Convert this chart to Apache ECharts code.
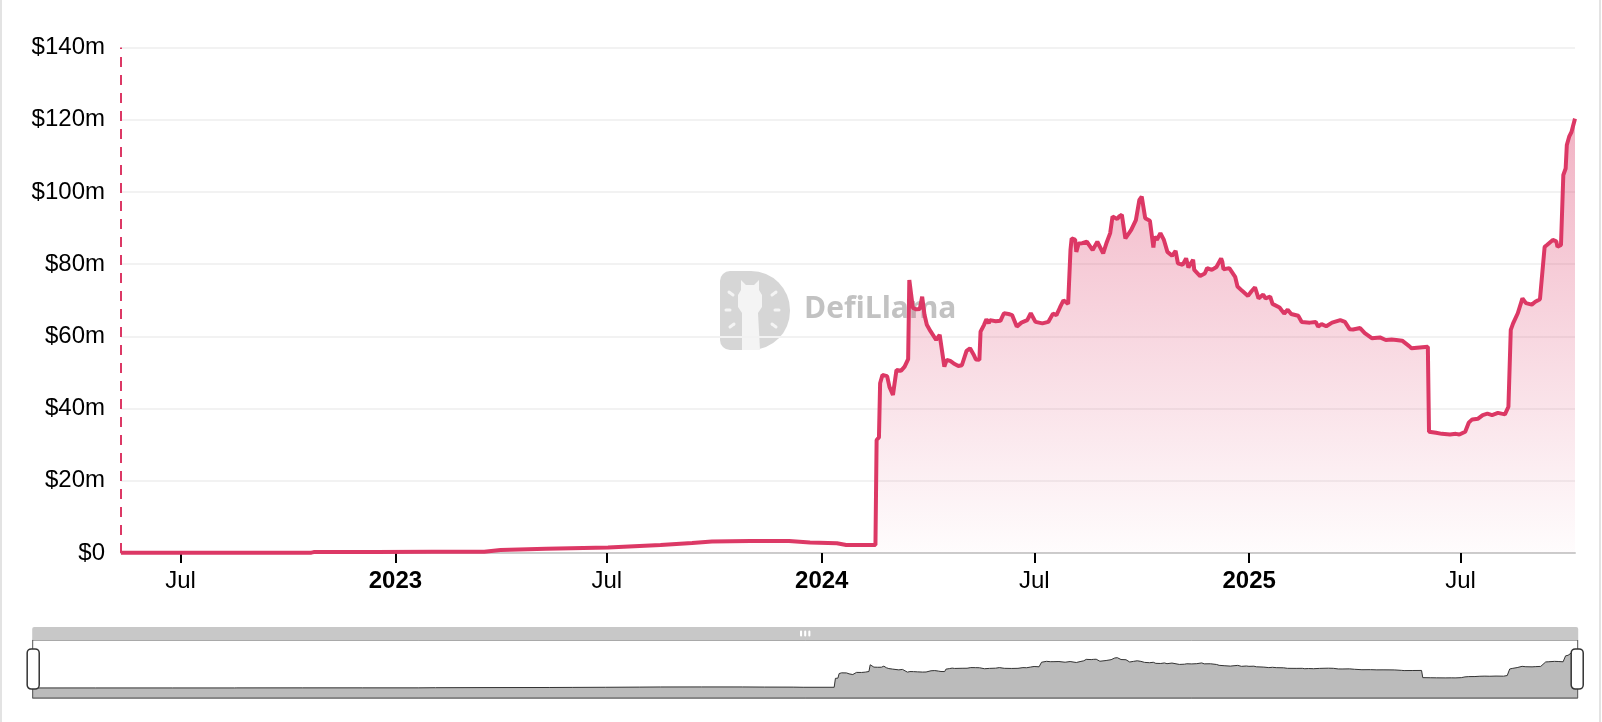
<!DOCTYPE html>
<html>
<head>
<meta charset="utf-8">
<script src="https://cdn.jsdelivr.net/npm/echarts@6/dist/echarts.min.js"></script>
<style>
  html, body { margin: 0; padding: 0; background: #fff; }
  #wrap { position: relative; width: 1602px; height: 722px; }
  #chart { position: absolute; left: 0; top: 0; width: 1602px; height: 722px; }
  .edge { position: absolute; top: 0; width: 2px; height: 722px; background: #e3e3e3; }
</style>
</head>
<body>
<div id="wrap">
  <div id="chart"></div>
  <div class="edge" style="left:0"></div>
  <div class="edge" style="left:1599px"></div>
</div>
<script>
// ---- data (TVL in $ millions) ----
const dates = [
  '2022-05-11','2022-07-01','2022-09-01','2022-10-21','2022-10-23','2022-12-15','2023-02-01','2023-03-18',
  '2023-04-01','2023-05-10','2023-07-02','2023-07-20','2023-08-16','2023-09-12','2023-09-29','2023-11-01',
  '2023-12-04','2023-12-22','2024-01-14','2024-01-22','2024-02-16',
  '2024-02-17','2024-02-19','2024-02-20','2024-02-22','2024-02-26','2024-02-28','2024-03-02','2024-03-05',
  '2024-03-09','2024-03-12','2024-03-15','2024-03-16','2024-03-19','2024-03-22','2024-03-25','2024-03-27',
  '2024-03-29','2024-03-31','2024-04-03','2024-04-08','2024-04-11','2024-04-15','2024-04-17','2024-04-20',
  '2024-04-23','2024-04-27','2024-04-30','2024-05-04','2024-05-07','2024-05-10','2024-05-12','2024-05-15',
  '2024-05-16','2024-05-19','2024-05-21','2024-05-23','2024-05-24','2024-05-29','2024-06-02','2024-06-05',
  '2024-06-09','2024-06-12','2024-06-16','2024-06-20','2024-06-25','2024-06-28','2024-07-02','2024-07-08',
  '2024-07-13','2024-07-17','2024-07-20','2024-07-23','2024-07-26','2024-07-30','2024-08-01','2024-08-02',
  '2024-08-05','2024-08-06','2024-08-08','2024-08-11','2024-08-15','2024-08-20','2024-08-24','2024-08-29',
  '2024-09-01','2024-09-04','2024-09-06','2024-09-10','2024-09-12','2024-09-14','2024-09-17','2024-09-22',
  '2024-09-26','2024-09-29','2024-10-01','2024-10-04','2024-10-08','2024-10-11','2024-10-12','2024-10-14',
  '2024-10-17','2024-10-20','2024-10-23','2024-10-27','2024-10-30','2024-11-01','2024-11-05','2024-11-08',
  '2024-11-10','2024-11-14','2024-11-15','2024-11-20','2024-11-24','2024-11-26','2024-11-30','2024-12-04',
  '2024-12-08','2024-12-09','2024-12-10','2024-12-15','2024-12-20','2024-12-22','2024-12-26','2024-12-31',
  '2025-01-03','2025-01-06','2025-01-09','2025-01-13','2025-01-15','2025-01-19','2025-01-21','2025-01-27',
  '2025-01-31','2025-02-03','2025-02-06','2025-02-12','2025-02-15','2025-02-22','2025-02-27','2025-03-01',
  '2025-03-04','2025-03-08','2025-03-13','2025-03-20','2025-03-24','2025-03-28','2025-03-31','2025-04-06',
  '2025-04-10','2025-04-16','2025-04-23','2025-04-28','2025-05-03','2025-05-07','2025-05-12','2025-05-18',
  '2025-05-20','2025-05-27','2025-06-03','2025-06-04','2025-06-10','2025-06-15','2025-06-22','2025-06-27',
  '2025-06-30','2025-07-05','2025-07-08','2025-07-11','2025-07-16','2025-07-20','2025-07-24','2025-07-28',
  '2025-08-02','2025-08-08','2025-08-11','2025-08-13','2025-08-15','2025-08-19','2025-08-23','2025-08-26',
  '2025-08-31','2025-09-03','2025-09-07','2025-09-11','2025-09-13','2025-09-18','2025-09-21','2025-09-22',
  '2025-09-25','2025-09-27','2025-09-29','2025-09-30','2025-10-02','2025-10-04','2025-10-07'
];
const tvl = [
  0.05,0.06,0.08,0.1,0.25,0.3,0.32,0.35,
  0.8,1.2,1.5,1.8,2.2,2.8,3.2,3.35,
  3.3,2.9,2.7,2.2,2.2,
  31.3,32,47,49.3,49,46,43.8,50.7,
  50.5,51.6,53.7,75.6,67.9,67.5,67.6,71,
  66,63.2,61.5,59,60.4,51.6,53.5,53.2,
  52.5,51.8,52,56,56.7,55,53.6,53.5,
  61.3,63.2,64.7,63.6,64.5,64.2,64.3,66.4,
  66.2,65.9,62.7,63.8,64.5,66.4,64,63.6,
  64,66.3,65.9,68,70,69,83.9,87.1,
  86.8,83.4,85.7,85.8,86.2,83.9,86.2,83,
  86,88.6,93.2,92.5,93.3,93.7,87.1,89.5,
  92.2,97.8,98.7,92.7,92,84.6,87.6,86.7,
  88.6,86.7,83.4,82.3,83.7,80.2,79.8,81.6,
  79.1,81.2,78.4,76.7,77.4,78.9,78.4,79.2,
  81.6,80.7,78.6,78.9,76.5,73.8,72.6,71.2,
  72.5,73.6,70.5,71.6,70.5,71,69,68,
  66.3,67.4,66.2,65.7,64,63.8,64,62.7,
  63.4,62.8,63.8,64.5,64,62,61.9,62.3,
  60.9,59.5,59.7,59,59.1,59,58.8,57.3,
  56.7,56.9,57.1,33.6,33.3,33,32.8,33,
  32.8,33.6,36.1,37,37.2,38.2,38.6,38.2,
  38.8,38.4,40.5,61.8,63.6,66.4,70.5,69.2,
  68.8,69.6,70.3,84.8,85.3,86.7,86.3,84.8,
  85.3,104.7,106.5,113,115.3,116.6,120.3
];
const tickDates = ['2022-07-01','2023-01-01','2023-07-01','2024-01-01','2024-07-01','2025-01-01','2025-07-01'];
const yTicks = { min: 0, max: 140, interval: 20 };

function ts(s) { const p = s.split('-').map(Number); return Date.UTC(p[0], p[1] - 1, p[2]); }
const seriesData = dates.map((d, i) => [ts(d), tvl[i]]);
const tickVals = tickDates.map(ts);

const FONT = '"Liberation Sans", Arial, Helvetica, sans-serif';
const LINE = '#dc3865';

const chart = echarts.init(document.getElementById('chart'), null, { renderer: 'canvas' });

const handlePath = 'path://M4,0h4a4,4,0,0,1,4,4v32a4,4,0,0,1,-4,4h-4a4,4,0,0,1,-4,-4v-32a4,4,0,0,1,4,-4z';

const option = {
  animation: false,
  backgroundColor: '#fff',
  grid: [
    { left: 121, right: 27, top: 47.5, bottom: 169 },
    { left: 32, right: 24, top: 640, height: 59 }
  ],
  xAxis: [{
    type: 'value',
    gridIndex: 0,
    min: 'dataMin',
    max: 'dataMax',
    scale: true,
    axisLine: { show: true, lineStyle: { color: '#cccccc', width: 2 } },
    axisTick: { show: true, customValues: tickVals, length: 10, lineStyle: { color: '#000', width: 2 } },
    axisLabel: {
      customValues: tickVals,
      margin: 16,
      fontSize: 24,
      color: '#000',
      fontFamily: FONT,
      formatter: function (v) {
        const d = new Date(v);
        return d.getUTCMonth() === 0 ? '{y|' + d.getUTCFullYear() + '}' : 'Jul';
      },
      rich: { y: { fontSize: 24, fontWeight: 'bold', color: '#000', fontFamily: FONT } }
    },
    splitLine: { show: false }
  }, {
    type: 'value',
    gridIndex: 1,
    min: 'dataMin',
    max: 'dataMax',
    scale: true,
    show: false
  }],
  yAxis: [{
    type: 'value',
    gridIndex: 0,
    min: yTicks.min,
    max: yTicks.max,
    interval: yTicks.interval,
    axisLine: { show: false },
    axisTick: { show: false },
    axisLabel: {
      margin: 16,
      fontSize: 24,
      color: '#000',
      fontFamily: FONT,
      formatter: function (v) { return v === 0 ? '$0' : '$' + v + 'm'; }
    },
    splitLine: { lineStyle: { color: '#f2f2f2', width: 2 } }
  }, {
    type: 'value',
    gridIndex: 1,
    show: false,
    min: function (e) { return e.min - (e.max - e.min) * 0.3; },
    max: function (e) { return e.max + (e.max - e.min) * 0.3; }
  }],
  dataZoom: [{
    type: 'slider',
    xAxisIndex: 0,
    start: 0,
    end: 100,
    left: 27,
    right: 29,
    bottom: 36,
    height: 59,
    showDetail: false,
    showDataShadow: false,
    brushSelect: true,
    backgroundColor: 'rgba(0,0,0,0)',
    borderColor: '#555',
    borderRadius: 0,
    fillerColor: 'rgba(0,0,0,0)',
    handleIcon: handlePath,
    handleSize: '68%',
    handleStyle: { color: '#fff', borderColor: '#333', borderWidth: 1.5 },
    moveHandleSize: 13,
    moveHandleStyle: { color: '#c8c8c8', opacity: 1 }
  }],
  graphic: [
    {
      type: 'group', left: 720, top: 271, z: 0, silent: true,
      children: [
        { type: 'rect', shape: { x: 0, y: 0, width: 70, height: 79, r: [10, 39, 39, 10] },
          style: { fill: '#d6d6d6' } },
        { type: 'polygon', shape: { points: [[22,79],[22,42],[18,36],[18,24],[21,19],[21,9],[26,14],[34,14],[39,9],[39,19],[42,24],[42,36],[38,42],[40,79]] },
          style: { fill: '#f4f4f4' } },
        { type: 'line', shape: { x1: 9, y1: 21, x2: 13, y2: 24 }, style: { stroke: '#f4f4f4', lineWidth: 3, lineCap: 'round' } },
        { type: 'line', shape: { x1: 6, y1: 39, x2: 10, y2: 39 }, style: { stroke: '#f4f4f4', lineWidth: 3, lineCap: 'round' } },
        { type: 'line', shape: { x1: 10, y1: 56, x2: 14, y2: 53 }, style: { stroke: '#f4f4f4', lineWidth: 3, lineCap: 'round' } },
        { type: 'line', shape: { x1: 56, y1: 21, x2: 52, y2: 24 }, style: { stroke: '#f4f4f4', lineWidth: 3, lineCap: 'round' } },
        { type: 'line', shape: { x1: 59, y1: 39, x2: 55, y2: 39 }, style: { stroke: '#f4f4f4', lineWidth: 3, lineCap: 'round' } },
        { type: 'line', shape: { x1: 56, y1: 56, x2: 52, y2: 53 }, style: { stroke: '#f4f4f4', lineWidth: 3, lineCap: 'round' } }
      ]
    },
    {
      type: 'text', left: 804, top: 294, z: 0, silent: true,
      style: { text: 'DefiLlama', fill: '#c2c2c2', font: 'bold 30px "Open Sans", "Liberation Sans", sans-serif' }
    }
  ],
  series: [{
    type: 'line',
    xAxisIndex: 0,
    yAxisIndex: 0,
    data: seriesData,
    showSymbol: false,
    symbol: 'none',
    z: 3,
    lineStyle: { color: LINE, width: 4 },
    itemStyle: { color: LINE },
    areaStyle: {
      color: new echarts.graphic.LinearGradient(0, 0, 0, 1, [
        { offset: 0, color: 'rgba(220,56,101,0.55)' },
        { offset: 1, color: 'rgba(220,56,101,0.02)' }
      ])
    },
    markLine: {
      silent: true,
      symbol: ['none', 'none'],
      label: { show: false },
      lineStyle: { color: LINE, type: [10, 8], width: 2 },
      data: [{ xAxis: seriesData[0][0] }]
    }
  }, {
    type: 'line',
    xAxisIndex: 1,
    yAxisIndex: 1,
    data: seriesData,
    showSymbol: false,
    symbol: 'none',
    silent: true,
    z: 1,
    lineStyle: { color: '#333', width: 1 },
    itemStyle: { color: '#333' },
    areaStyle: { color: '#bbbbbb', opacity: 1, origin: 'start' }
  }]
};
chart.setOption(option);
</script>
</body>
</html>
